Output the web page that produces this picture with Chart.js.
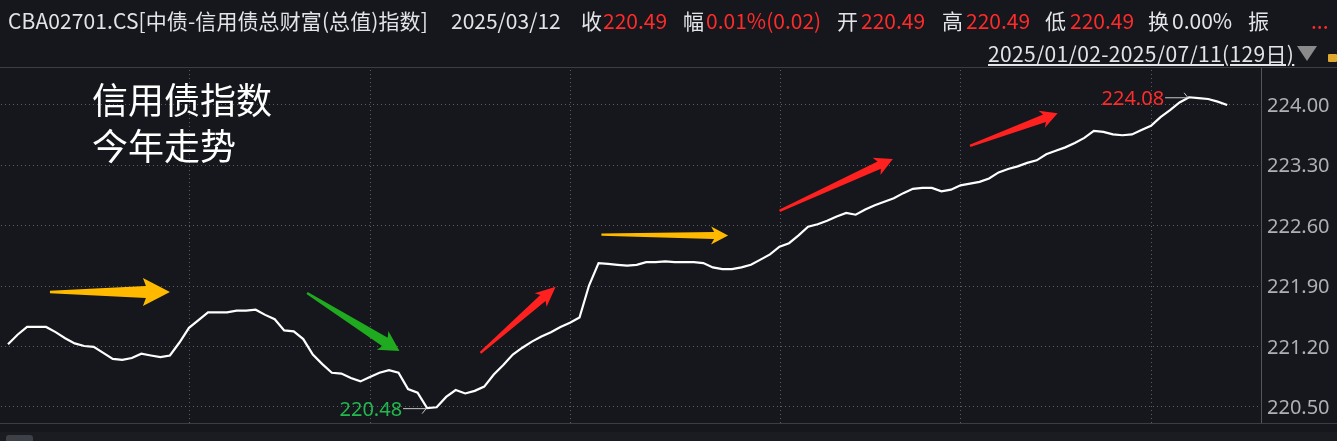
<!DOCTYPE html>
<html>
<head>
<meta charset="utf-8">
<script src="https://cdn.jsdelivr.net/npm/chart.js@4.4.1/dist/chart.umd.min.js"></script>
<style>
html,body{margin:0;padding:0;background:#15171c;overflow:hidden;}
#wrap{position:relative;width:1337px;height:441px;background:#15171c;}
#c{position:absolute;left:0;top:0;}
.hd{position:absolute;font-family:"Noto Sans CJK SC","Noto Sans",sans-serif;font-size:21px;line-height:21px;white-space:nowrap;color:#e2e4e8;}
.r{color:#ff2b2b;}
.big{position:absolute;font-family:"Noto Sans CJK SC",sans-serif;font-size:36px;line-height:36px;color:#ffffff;white-space:nowrap;}
#bottomband{position:absolute;left:0;top:432px;width:1337px;height:9px;background:#1a1c21;}
#scroll{position:absolute;left:6px;top:435px;width:27px;height:8px;background:#3d4047;border-radius:3px;}
#topline{position:absolute;left:0;top:67px;width:1337px;height:1px;background:#3a3d44;}
#tri{position:absolute;left:1297px;top:46px;width:0;height:0;border-left:10px solid transparent;border-right:10px solid transparent;border-top:15px solid #8a8a8a;}
</style>
</head>
<body>
<div id="wrap">
<canvas id="c" width="1337" height="441"></canvas>
<div id="topline"></div>
<div id="bottomband"></div><div id="scroll"></div>
<div class="hd" style="left:8px;top:10px;letter-spacing:0.1px;">CBA02701.CS[中债-信用债总财富(总值)指数]</div>
<div class="hd" style="left:451px;top:10px;">2025/03/12</div>
<div class="hd" style="left:581px;top:10px;">收</div>
<div class="hd r" style="left:603px;top:10px;">220.49</div>
<div class="hd" style="left:683px;top:10px;">幅</div>
<div class="hd r" style="left:706px;top:10px;">0.01%(0.02)</div>
<div class="hd" style="left:837px;top:10px;">开</div>
<div class="hd r" style="left:861px;top:10px;">220.49</div>
<div class="hd" style="left:942px;top:10px;">高</div>
<div class="hd r" style="left:966px;top:10px;">220.49</div>
<div class="hd" style="left:1045px;top:10px;">低</div>
<div class="hd r" style="left:1070px;top:10px;">220.49</div>
<div class="hd" style="left:1148px;top:10px;">换</div>
<div class="hd" style="left:1172px;top:10px;">0.00%</div>
<div class="hd" style="left:1248px;top:10px;">振</div>
<div class="hd r" style="left:1311px;top:10px;">...</div>
<div class="hd" style="left:988px;top:43px;text-decoration:underline;letter-spacing:0.35px;">2025/01/02-2025/07/11(129日)</div>
<div id="tri"></div>
<div style="position:absolute;left:1328px;top:54px;width:9px;height:8px;background:#e0a82e;border-radius:1px;"></div>
<div class="big" style="left:92px;top:80px;">信用债指数</div>
<div class="big" style="left:92px;top:126px;">今年走势</div>
</div>
<script>
// ---- data ----
const dates = [
'2025/01/02','2025/01/03','2025/01/06','2025/01/07','2025/01/08','2025/01/09','2025/01/10','2025/01/13','2025/01/14','2025/01/15',
'2025/01/16','2025/01/17','2025/01/20','2025/01/21','2025/01/22','2025/01/23','2025/01/24','2025/01/26','2025/01/27',
'2025/02/05','2025/02/06','2025/02/07','2025/02/08','2025/02/10','2025/02/11','2025/02/12','2025/02/13','2025/02/14','2025/02/17',
'2025/02/18','2025/02/19','2025/02/20','2025/02/21','2025/02/24','2025/02/25','2025/02/26','2025/02/27','2025/02/28',
'2025/03/03','2025/03/04','2025/03/05','2025/03/06','2025/03/07','2025/03/10','2025/03/11','2025/03/12','2025/03/13','2025/03/14',
'2025/03/17','2025/03/18','2025/03/19','2025/03/20','2025/03/21','2025/03/24','2025/03/25','2025/03/26','2025/03/27','2025/03/28','2025/03/31',
'2025/04/01','2025/04/02','2025/04/03','2025/04/07','2025/04/08','2025/04/09','2025/04/10','2025/04/11','2025/04/14','2025/04/15',
'2025/04/16','2025/04/17','2025/04/18','2025/04/21','2025/04/22','2025/04/23','2025/04/24','2025/04/25','2025/04/27','2025/04/28','2025/04/29','2025/04/30',
'2025/05/06','2025/05/07','2025/05/08','2025/05/09','2025/05/12','2025/05/13','2025/05/14','2025/05/15','2025/05/16','2025/05/19',
'2025/05/20','2025/05/21','2025/05/22','2025/05/23','2025/05/26','2025/05/27','2025/05/28','2025/05/29','2025/05/30',
'2025/06/03','2025/06/04','2025/06/05','2025/06/06','2025/06/09','2025/06/10','2025/06/11','2025/06/12','2025/06/13','2025/06/16',
'2025/06/17','2025/06/18','2025/06/19','2025/06/20','2025/06/23','2025/06/24','2025/06/25','2025/06/26','2025/06/27','2025/06/30',
'2025/07/01','2025/07/02','2025/07/03','2025/07/04','2025/07/07','2025/07/08','2025/07/09','2025/07/10','2025/07/11'
];
const indexValues = [
221.22,221.33,221.42,221.42,221.42,221.36,221.29,221.23,221.20,221.19,
221.12,221.05,221.04,221.06,221.11,221.09,221.07,221.09,221.24,221.41,
221.50,221.59,221.59,221.59,221.61,221.61,221.62,221.56,221.51,221.38,
221.37,221.28,221.10,220.99,220.89,220.88,220.83,220.79,220.84,220.89,
220.92,220.89,220.70,220.66,220.48,220.49,220.61,220.69,220.65,220.68,
220.73,220.87,220.98,221.10,221.18,221.25,221.31,221.36,221.42,221.47,
221.53,221.90,222.16,222.15,222.14,222.13,222.14,222.17,222.17,222.18,
222.17,222.17,222.17,222.16,222.11,222.09,222.09,222.11,222.14,222.20,
222.26,222.35,222.39,222.48,222.58,222.61,222.65,222.70,222.74,222.72,
222.78,222.83,222.87,222.91,222.97,223.02,223.03,223.03,222.99,223.01,
223.06,223.08,223.10,223.14,223.21,223.25,223.28,223.32,223.35,223.42,
223.46,223.50,223.55,223.61,223.69,223.68,223.65,223.64,223.65,223.70,
223.75,223.85,223.93,224.02,224.08,224.07,224.06,224.03,223.99
];
const yTickValues = [220.50, 221.20, 221.90, 222.60, 223.30, 224.00];

// annotation arrows (in data space: trading-day index, index value)
const arrowTailIdx = [4.4, 31.4, 49.6, 62.3, 81.0, 101.0];
const arrowTailVal = [221.825, 221.814, 221.12, 222.49, 222.765, 223.516];
const arrowTipIdx  = [17.0, 41.1, 57.5, 75.6, 92.9, 110.2];
const arrowTipVal  = [221.825, 221.142, 221.885, 222.479, 223.366, 223.895];
const arrowColors  = ['#ffba00', '#1faa1f', '#ff2020', '#ffba00', '#ff2020', '#ff2020'];
const arrowHeadLen = [27, 20, 20, 17, 18, 17];
const arrowHeadHalf = [14, 11, 9, 9, 9.5, 9];
const arrowShaftHalf = [6, 5, 4, 3.5, 4, 4];

// month boundaries from dates
const monthStarts = [];
dates.forEach((d, i) => { if (i > 0 && d.slice(5, 7) !== dates[i - 1].slice(5, 7)) monthStarts.push(i); });

const points = indexValues.map((v, i) => ({ x: i, y: v }));

// dotted grid + axis lines drawn pixel-exact from the scales' ticks
const dottedGrid = {
  id: 'dottedGrid',
  beforeDatasetsDraw(chart) {
    const { ctx, chartArea: a, scales: { x, y } } = chart;
    ctx.save();
    ctx.fillStyle = '#5a5d65';
    y.ticks.forEach(t => {
      const py = Math.round(y.getPixelForValue(t.value));
      for (let px = Math.round(a.left) + 1; px < a.right; px += 4) ctx.fillRect(px, py, 1, 1);
    });
    x.ticks.forEach(t => {
      const px = Math.round(x.getPixelForValue(t.value));
      for (let py = Math.round(a.top) + 2; py < a.bottom; py += 4) ctx.fillRect(px, py, 1, 1);
    });
    ctx.fillStyle = '#52555c';
    ctx.fillRect(Math.round(a.right), Math.round(a.top), 1, Math.round(a.bottom - a.top) + 1);
    ctx.fillStyle = '#3a3d44';
    ctx.fillRect(0, Math.round(a.bottom), chart.width, 1);
    ctx.restore();
  }
};

const annotPlugin = {
  id: 'annot',
  afterDatasetsDraw(chart) {
    const { ctx, scales: { x, y } } = chart;
    ctx.save();
    for (let k = 0; k < arrowTailIdx.length; k++) {
      const x0 = x.getPixelForValue(arrowTailIdx[k]), y0 = y.getPixelForValue(arrowTailVal[k]);
      const x1 = x.getPixelForValue(arrowTipIdx[k]), y1 = y.getPixelForValue(arrowTipVal[k]);
      const L = Math.hypot(x1 - x0, y1 - y0);
      const ux = (x1 - x0) / L, uy = (y1 - y0) / L, nx = -uy, ny = ux;
      const h = arrowHeadLen[k], H = arrowHeadHalf[k], s = arrowShaftHalf[k], t = 1.2, notch = 3;
      const P = (a, p) => [x0 + ux * a + nx * p, y0 + uy * a + ny * p];
      const pts = [P(0, -t), P(L - h + notch, -s), P(L - h, -H), P(L, 0), P(L - h, H), P(L - h + notch, s), P(0, t)];
      ctx.beginPath();
      pts.forEach((p, j) => j ? ctx.lineTo(p[0], p[1]) : ctx.moveTo(p[0], p[1]));
      ctx.closePath();
      ctx.fillStyle = arrowColors[k];
      ctx.fill();
    }
    let maxI = 0, minI = 0;
    indexValues.forEach((v, i) => { if (v > indexValues[maxI]) maxI = i; if (v < indexValues[minI]) minI = i; });
    const drawMark = (i, color, dir) => {
      const px = x.getPixelForValue(i), py = y.getPixelForValue(indexValues[i]);
      ctx.strokeStyle = '#c8c8c8';
      ctx.lineWidth = 1;
      ctx.beginPath();
      ctx.moveTo(px - 24, py + 0.5); ctx.lineTo(px - 1, py + 0.5);
      ctx.moveTo(px - 1, py + 0.5); ctx.lineTo(px - 5, py + 0.5 + dir * 5);
      ctx.stroke();
      ctx.fillStyle = color;
      ctx.font = '20px "Noto Sans"';
      ctx.textAlign = 'right';
      ctx.textBaseline = 'middle';
      ctx.fillText(indexValues[i].toFixed(2), px - 25, py + 2.5);
    };
    drawMark(maxI, '#ff2b2b', -1);
    drawMark(minI, '#22b84e', 1);
    ctx.restore();
  }
};

new Chart(document.getElementById('c'), {
  type: 'line',
  data: {
    labels: dates,
    datasets: [{
      label: '中债-信用债总财富(总值)指数',
      data: points,
      borderColor: '#ffffff',
      borderWidth: 2.2,
      pointRadius: 0,
      tension: 0,
      fill: false
    }]
  },
  options: {
    responsive: false,
    animation: false,
    layout: { padding: { top: 68, left: 0, right: 0, bottom: 0 } },
    plugins: { legend: { display: false }, tooltip: { enabled: false }, title: { display: false } },
    scales: {
      x: {
        type: 'linear',
        min: -0.84,
        max: 131.55,
        afterBuildTicks: s => { s.ticks = monthStarts.map(v => ({ value: v })); },
        afterFit: s => { s.height = 10; },
        ticks: { display: false },
        grid: { display: false },
        border: { display: false }
      },
      y: {
        position: 'right',
        min: 220.308,
        max: 224.419,
        afterBuildTicks: s => { s.ticks = yTickValues.map(v => ({ value: v })); },
        afterFit: s => { s.width = 76; },
        ticks: {
          color: '#aeb0b4',
          font: { family: 'Noto Sans', size: 20 },
          padding: 6,
          labelOffset: 2,
          callback: v => Number(v).toFixed(2)
        },
        grid: { display: false, drawTicks: false },
        border: { display: false }
      }
    }
  },
  plugins: [dottedGrid, annotPlugin]
});
</script>
</body>
</html>
